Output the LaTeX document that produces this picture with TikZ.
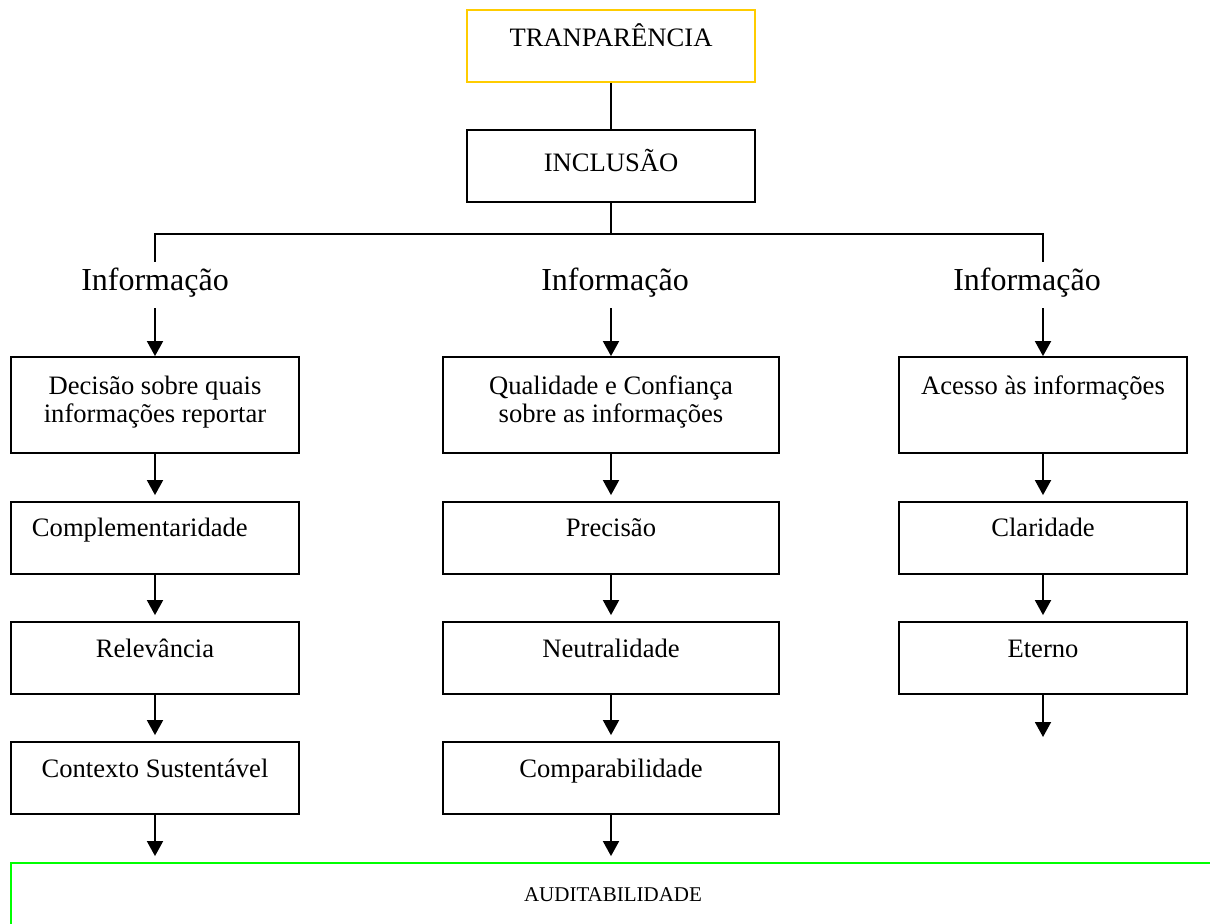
\documentclass[tikz,border=0pt]{standalone}
\usepackage{fontspec}
\setmainfont{Liberation Serif}
\usepackage{xcolor}
\usepackage{tikz}
\usetikzlibrary{arrows.meta}
\definecolor{ouro}{HTML}{FFCC00}
\definecolor{verde}{HTML}{00FF00}
\tikzset{
  caixa/.style={draw=black, line width=0.9pt, font=\fontsize{13.3}{14}\selectfont, align=center,
    inner ysep=4pt, text height=13.5pt, text depth=14.5pt},
  alta/.style={text height=29pt, text depth=11pt},
  altaum/.style={text height=15pt, text depth=25pt},
  estreita/.style={minimum width=144pt},
  larga/.style={minimum width=168pt},
  titulo/.style={font=\fontsize{16}{19}\selectfont, inner ysep=3.5pt, text height=11pt, text depth=5pt},
  liga/.style={line width=0.9pt},
  seta/.style={line width=0.9pt, -{Triangle[length=7.5pt,width=8pt]}},
}
\begin{document}
\begin{tikzpicture}[x=0.5pt,y=-0.5pt]
  \useasboundingbox (0,0) rectangle (1210,924);
  \clip (0,0) rectangle (1210,924);

  % topo
  \node[caixa, estreita, draw=ouro, text height=14.5pt, text depth=13.5pt] (tran) at (611,46) {TRANPARÊNCIA};
  \node[caixa, estreita, text height=17pt, text depth=11pt] (incl) at (611,166) {INCLUSÃO};
  \draw[liga] (tran) -- (incl);

  % tres ramos
  \node[titulo, anchor=base] (inf1) at (155,291) {Informação};
  \node[titulo, anchor=base] (inf2) at (615,291) {Informação};
  \node[titulo, anchor=base] (inf3) at (1027,291) {Informação};
  \coordinate (meio) at (611,234);
  \coordinate (esq) at (155,234);
  \coordinate (dir) at (1043,234);
  \draw[liga] (incl) -- (meio);
  \draw[liga] (inf1.north) -- (esq) -- (dir) -- (dir |- inf3.north);

  % coluna esquerda
  \node[caixa, estreita, alta] (dec) at (155,405) {Decisão sobre quais\\informações reportar};
  \node[caixa, estreita, align=left, text width=123pt, inner xsep=10.5pt] (comp) at (155,538) {Complementaridade};
  \node[caixa, estreita] (rel) at (155,658) {Relevância};
  \node[caixa, estreita] (cont) at (155,778) {Contexto Sustentável};

  % coluna do meio
  \node[caixa, larga, alta] (qual) at (611,405) {Qualidade e Confiança\\sobre as informações};
  \node[caixa, larga] (prec) at (611,538) {Precisão};
  \node[caixa, larga] (neut) at (611,658) {Neutralidade};
  \node[caixa, larga] (compar) at (611,778) {Comparabilidade};

  % coluna direita
  \node[caixa, estreita, altaum] (aces) at (1043,405) {Acesso às informações};
  \node[caixa, estreita] (clar) at (1043,538) {Claridade};
  \node[caixa, estreita] (eter) at (1043,658) {Eterno};
  \coordinate (fim) at (1043,737);

  % base (cortada pela margem)
  \node[caixa, draw=verde, font=\fontsize{10.5}{12}\selectfont, minimum width=602pt,
    text height=15pt, text depth=14pt] (aud) at (613,900) {AUDITABILIDADE};

  % setas
  \draw[seta] (dec.north |- inf1.south) -- (dec.north);
  \draw[seta] (qual.north |- inf2.south) -- (qual.north);
  \draw[seta] (aces.north |- inf3.south) -- (aces.north);
  \foreach \a/\b in {dec/comp, comp/rel, rel/cont, qual/prec, prec/neut, neut/compar, aces/clar, clar/eter}
    \draw[seta, shorten >=3pt] (\a.south) -- (\b.north);
  \draw[seta] (eter.south) -- (fim);
  \draw[seta, shorten >=3pt] (cont.south) -- (cont.south |- aud.north);
  \draw[seta, shorten >=3pt] (compar.south) -- (compar.south |- aud.north);
\end{tikzpicture}
\end{document}
